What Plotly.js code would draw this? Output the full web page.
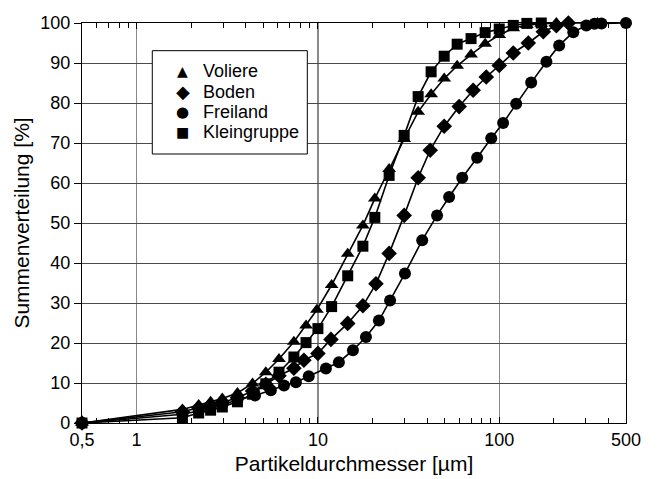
<!DOCTYPE html>
<html>
<head>
<meta charset="utf-8">
<script src="https://cdn.plot.ly/plotly-3.0.1.min.js"></script>
<style>html,body{margin:0;padding:0;background:#fff;}#chart{width:659px;height:479px;}</style>
</head>
<body>
<div id="chart"></div>
<script>
// Series names
const seriesNames = ["Voliere", "Boden", "Freiland", "Kleingruppe"];
const legendGlyphs = ["▲", "◆", "●", "■"];

// Voliere (triangles)
const volX = [0.5,1.79,2.2,2.56,2.97,3.6,4.36,5.16,6.1,7.37,8.6,9.87,11.9,14.6,17.7,20.6,24.7,29.9,35.7,42.1,49.7,58.6,69.9,83.6,100,119.5,142,170.5,206.5,348];
const volY = [0,3.4,4.5,5.3,6.1,7.5,9.9,12.7,16.0,20.3,24.4,28.3,34.5,42.3,49.4,56.1,63.5,71.0,77.8,82.2,86.1,89.3,92.1,94.8,97.0,98.7,99.5,99.8,100,100];

// Boden (diamonds)
const bodX = [0.5,1.79,2.2,2.56,2.97,3.6,4.36,5.16,6.1,7.37,8.37,10.0,11.8,14.6,17.7,20.9,24.7,29.9,35.7,41.6,49.7,60.1,71.8,84.8,100,119.5,144.6,175,206.5,240.5];
const bodY = [0,2.8,3.8,4.5,5.1,6.3,8.0,9.7,11.8,13.7,15.7,17.4,20.9,24.9,29.3,34.8,42.4,51.9,61.3,68.2,74.2,79.1,83.2,86.5,89.4,92.5,95.0,97.8,99.3,100];

// Freiland (circles)
const freX = [0.5,1.79,2.2,2.56,2.97,3.6,4.5,5.5,6.5,7.56,8.9,11.07,13.05,15.6,18.4,21.7,25,30.2,37.6,45.4,52.9,62.5,75.5,90.3,105,124,150,182,214,256,302,335,366,500];
const freY = [0,2.2,3.0,3.7,4.5,5.8,6.9,8.2,9.4,10.2,11.7,13.6,15.2,18.2,21.5,25.6,30.6,37.4,45.7,51.9,56.5,61.3,66.3,71.2,75.0,79.8,85.1,90.3,94.4,97.7,99.4,99.8,99.9,100];

// Kleingruppe (squares)
const klX = [0.5,1.79,2.2,2.56,2.97,3.6,4.36,5.16,6.1,7.37,8.6,10.0,11.9,14.6,17.7,20.6,24.7,29.9,35.7,42.1,49.7,58.6,69.9,83.6,100,119.5,142,170.5];
const klY = [0,1.3,2.5,3.2,4.0,5.3,7.2,9.8,12.7,16.5,20.1,23.6,29.1,36.8,44.2,51.4,61.9,71.9,81.6,87.8,91.7,94.7,96.1,97.6,98.5,99.4,99.9,100];

// Axis ticks
const xTickVals = [0.5, 1, 10, 100, 500];
const xTickText = ["0,5", "1", "10", "100", "500"];
const xMinorVals = [0.6,0.7,0.8,0.9,2,3,4,5,6,7,8,9,20,30,40,50,60,70,80,90,200,300,400];
const yTickVals = [0,10,20,30,40,50,60,70,80,90,100];

const symbols = ["triangle-up", "diamond", "circle", "square"];
const sizes = [12, 12, 12, 11];
const xs = [volX, bodX, freX, klX];
const ys = [volY, bodY, freY, klY];

const traces = [];
for (let i = 0; i < 4; i++) {
  traces.push({
    x: xs[i], y: ys[i], type: "scatter", mode: "lines+markers",
    name: seriesNames[i], showlegend: false, cliponaxis: false,
    line: {color: "#000", width: 1.6},
    marker: {symbol: symbols[i], size: sizes[i], color: "#000"}
  });
}

const fam = "Liberation Sans, Arial, sans-serif";
const tickFont = {family: fam, size: 18, color: "#000"};
const titleFont = {family: fam, size: 21, color: "#000"};
const legFont = {family: fam, size: 18, color: "#000"};

// Legend box (layout positions in paper coordinates)
const legRowY = [0.8808, 0.8283, 0.7783, 0.7283];
const glyphSizes = [14, 18, 15, 14];
const annotations = [];
for (let i = 0; i < 4; i++) {
  annotations.push({
    xref: "paper", yref: "paper", x: 0.1851, y: legRowY[i],
    xanchor: "center", yanchor: "middle", showarrow: false,
    text: legendGlyphs[i], font: {family: "DejaVu Sans, sans-serif", size: glyphSizes[i], color: "#000"}
  });
  annotations.push({
    xref: "paper", yref: "paper", x: 0.2188, y: legRowY[i],
    xanchor: "left", yanchor: "middle", showarrow: false,
    text: seriesNames[i], font: legFont
  });
}

const layout = {
  width: 659, height: 479,
  margin: {l: 82, r: 33, t: 23, b: 56},
  paper_bgcolor: "#fff", plot_bgcolor: "#fff",
  font: tickFont,
  showlegend: false,
  shapes: [{
    type: "rect", xref: "paper", yref: "paper",
    x0: 0.1292, x1: 0.4142, y0: 0.6725, y1: 0.9308,
    fillcolor: "#fff", line: {color: "#000", width: 1}, layer: "above"
  }],
  annotations: annotations,
  xaxis: {
    type: "log",
    range: [Math.log10(0.5), Math.log10(500)],
    tickmode: "array", tickvals: xTickVals, ticktext: xTickText,
    ticks: "inside", ticklen: 6, tickcolor: "#000",
    showgrid: true, gridcolor: "#8a8a8a", gridwidth: 1.5,
    showline: true, linecolor: "#000", linewidth: 1.2, mirror: "ticks",
    zeroline: false,
    minor: {tickvals: xMinorVals, ticks: "inside", ticklen: 5, tickcolor: "#000", showgrid: false},
    title: {text: "Partikeldurchmesser [µm]", font: titleFont, standoff: 7},
    tickfont: tickFont
  },
  yaxis: {
    range: [0, 100],
    tickmode: "array", tickvals: yTickVals,
    ticks: "outside", ticklen: 7, tickcolor: "#000",
    showgrid: true, gridcolor: "#4a4a4a", gridwidth: 1,
    showline: true, linecolor: "#000", linewidth: 1.2, mirror: true,
    zeroline: false,
    title: {text: "Summenverteilung [%]", font: titleFont, standoff: 4},
    tickfont: tickFont
  }
};

Plotly.newPlot("chart", traces, layout, {staticPlot: true, displayModeBar: false});
</script>
</body>
</html>
